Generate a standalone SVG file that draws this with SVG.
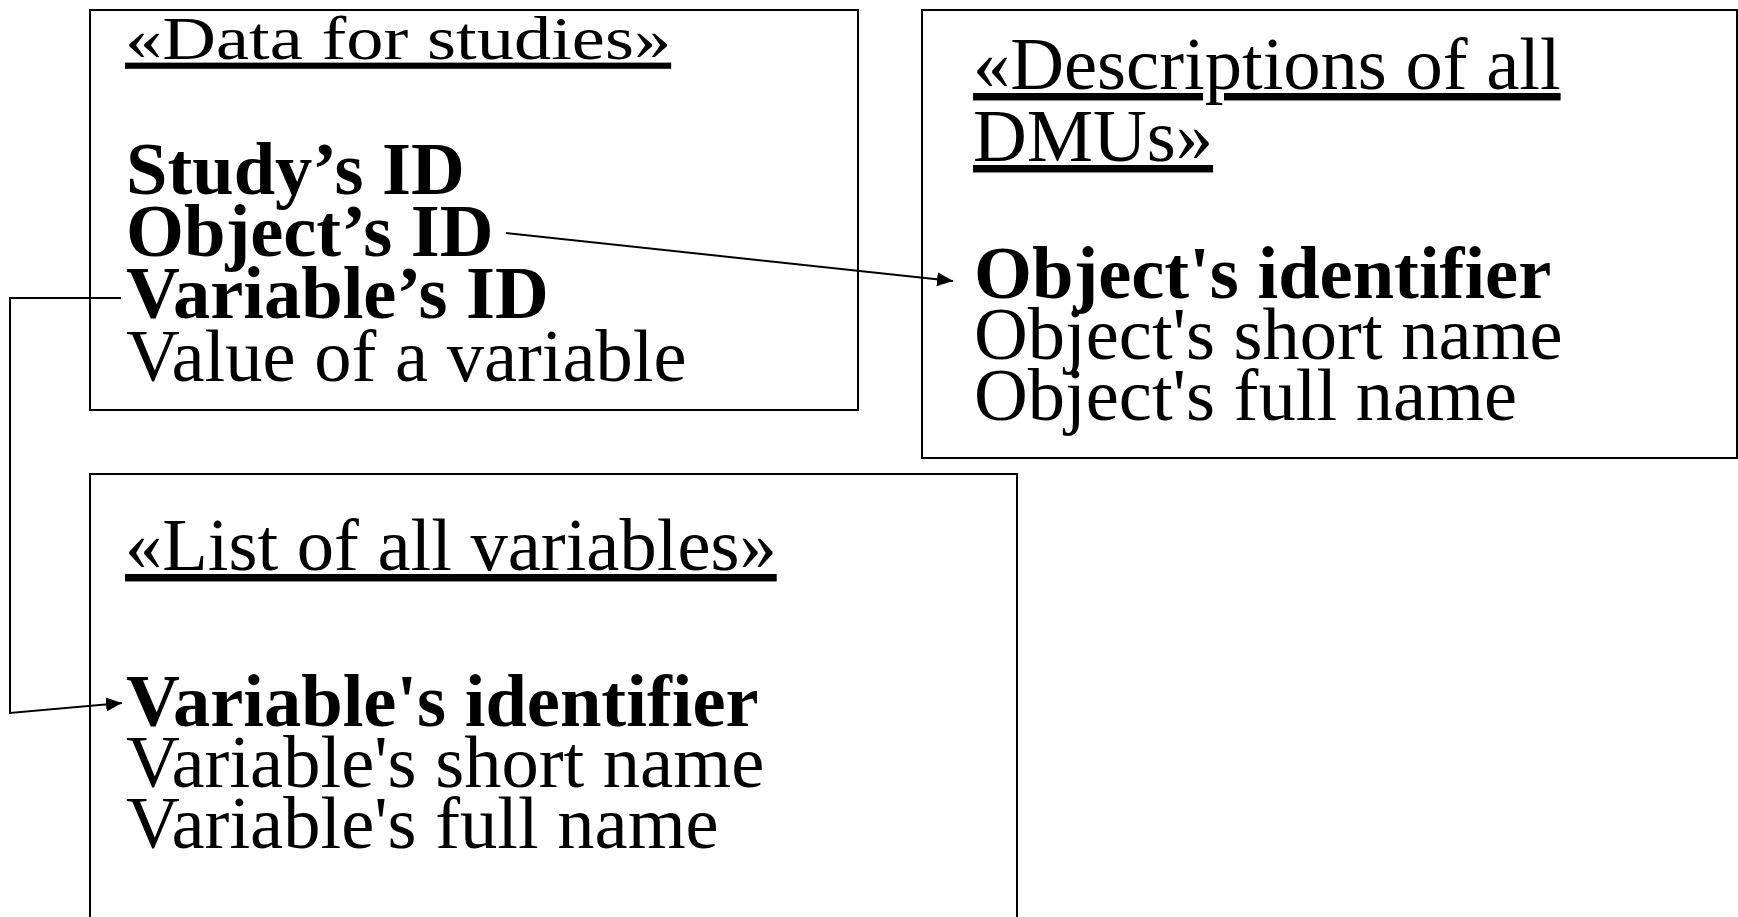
<svg xmlns="http://www.w3.org/2000/svg" width="1738" height="917" viewBox="0 0 1738 917">
<style>
.box{fill:#fff;stroke:#000;stroke-width:2}
.t{font-family:"Liberation Serif","Times New Roman",serif;font-size:74.5px;fill:#000}
.b{font-weight:bold}
.u{text-decoration:underline}
.con{fill:none;stroke:#000;stroke-width:2}
</style>
<defs>
<marker id="arr" markerUnits="userSpaceOnUse" markerWidth="18" markerHeight="16" refX="16" refY="7" orient="auto">
<path d="M0,0 L16,7 L0,14 z" fill="#000"/>
</marker>
</defs>
<rect width="1738" height="917" fill="#fff"/>
<g id="data-for-studies">
<rect class="box" x="90" y="10" width="768" height="400"/>
<text class="t u" transform="translate(125,59) scale(1,0.83)" x="0" y="0">«Data for studies»</text>
<text class="t b" x="126" y="194">Study’s ID</text>
<text class="t b" x="126" y="256">Object’s ID</text>
<text class="t b" x="126" y="318">Variable’s ID</text>
<text class="t" x="126" y="381">Value of a variable</text>
</g>
<g id="descriptions-of-all-dmus">
<rect class="box" x="922" y="10" width="815" height="448"/>
<text class="t u" x="973" y="89">«Descriptions of all</text>
<text class="t u" x="973" y="161">DMUs»</text>
<text class="t b" x="974" y="298">Object's identifier</text>
<text class="t" x="974" y="359">Object's short name</text>
<text class="t" x="974" y="420">Object's full name</text>
</g>
<g id="list-of-all-variables">
<rect class="box" x="90" y="474" width="927" height="500"/>
<text class="t u" x="125" y="570">«List of all variables»</text>
<text class="t b" x="126" y="726">Variable's identifier</text>
<text class="t" x="126" y="787">Variable's short name</text>
<text class="t" x="126" y="848">Variable's full name</text>
</g>
<g id="connectors">
<path class="con" d="M506,233 L953,281" marker-end="url(#arr)"/>
<path class="con" d="M121,298 L10,298 L10,713 L122,703" marker-end="url(#arr)"/>
</g>
</svg>
